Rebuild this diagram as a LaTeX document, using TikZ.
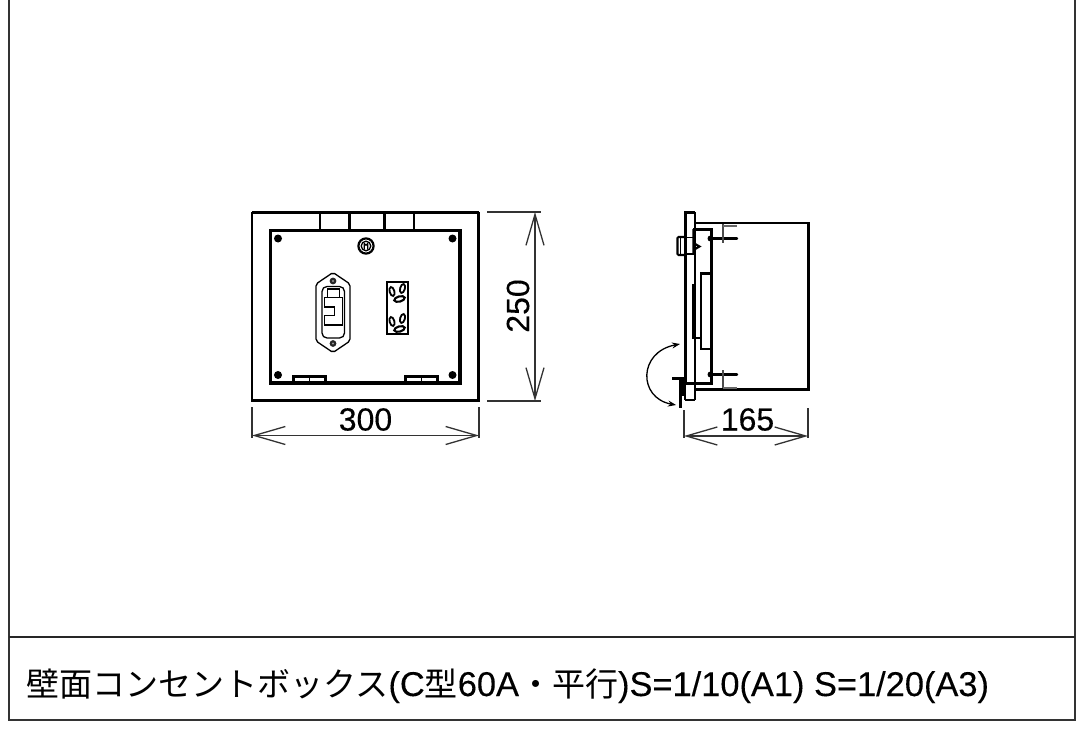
\documentclass[tikz,border=0pt]{standalone}
\usepackage{fontspec}
\usetikzlibrary{arrows.meta}
\setmainfont{Liberation Sans}[FakeBold=0.2]
\newfontfamily\cjk{Noto Sans CJK JP}[Scale=0.96]
\tikzset{
  dimline/.style={line width=1.3pt,black!80},
  barbs/.style={dimline,{Straight Barb[length=31pt,width=18pt,line width=1.3pt]}-{Straight Barb[length=31pt,width=18pt,line width=1.3pt]}},
  thin line/.style={line width=1.3pt},
  mid line/.style={line width=2.1pt},
  heavy/.style={line width=3pt},
  dimtext/.style={font=\fontsize{32}{36}\selectfont,inner sep=0pt},
  screwdot/.style={fill=black,draw=none},
  swing/.style={line width=1.3pt,{Stealth[length=8pt,width=6pt]}-{Stealth[length=8pt,width=6pt]}}
}
\begin{document}
\begin{tikzpicture}[x=1pt,y=-1pt]
\useasboundingbox (0,0) rectangle (1081,730);
% sheet frame
\draw[line width=1.3pt,black!80] (9,0) -- (9,720) -- (1075,720) -- (1075,0);
\draw[line width=1.6pt,black!85] (9,637) -- (1075,637);
\node[anchor=base west,inner sep=0pt,font=\fontsize{34.4}{38}\selectfont] (title) at (26,696) {{\cjk 壁面コンセントボックス}(C{\cjk 型}60A{\cjk ・平行})S=1/10(A1) S=1/20(A3)};
% front view
\draw[mid line] (252,212.5) -- (478.5,212.5);
\draw[line width=2.3pt] (252,212) -- (252,400.5) -- (478.5,400.5) -- (478.5,212);
\draw[line width=3.2pt] (270.5,230.5) rectangle (460,383);
\draw[mid line] (320,230) -- (320,213) -- (349.5,213) -- (349.5,230);
\draw[mid line] (384.5,230) -- (384.5,213) -- (414,213) -- (414,230);
\foreach \p in {(278,238.5),(452.5,238.5),(278,375),(452.5,375)}
  \fill[screwdot] \p circle (4);
% key
\draw[line width=2.2pt] (366,246) circle (7.6);
\draw[thin line] (366,246) circle (4.8);
\draw[thin line] (364.3,249.5) -- (364.3,243.5) arc (180:0:1.7) -- (367.7,249.5);
% hinges
\draw[line width=2.4pt] (293.5,382) -- (293.5,376.5) -- (325.5,376.5) -- (325.5,382);
\draw[thin line] (309.5,377) -- (309.5,382);
\draw[line width=2.4pt] (405.5,382) -- (405.5,376.5) -- (437.5,376.5) -- (437.5,382);
\draw[thin line] (421.5,377) -- (421.5,382);
% breaker plate
\draw[thin line,rounded corners=2pt] (333,272.5) -- (350,284) -- (350,341) -- (333,352.5) -- (316,341) -- (316,284) -- cycle;
\draw[thin line,rounded corners=5pt] (322,286.5) rectangle (344.5,338);
\foreach \p in {(333,281),(333,343.5)}{
  \fill[black!85] \p circle (3.4);
  \fill[black!40] \p circle (1.2);
}
\draw[thin line] (327.5,296.5) -- (327.5,289) -- (339.5,289) -- (339.5,296.5);
\draw[line width=1.9pt] (324.5,297.5) -- (342.5,297.5) -- (342.5,325) -- (324.5,325) -- (324.5,315.5) -- (334.5,315.5) -- (334.5,307) -- (324.5,307) -- cycle;
% outlet
\draw[line width=2pt] (386.5,281.5) rectangle (407.5,334);
\foreach \dy in {0,30}{
  \begin{scope}[yshift=-\dy pt]
  \draw[line width=1.8pt,rotate around={15:(392,291.5)}] (392,291.5) ellipse (2.4 and 4.6);
  \draw[line width=1.8pt,rotate around={-15:(402.5,288.5)}] (402.5,288.5) ellipse (2.4 and 4.6);
  \draw[mid line,rotate around={15:(399.5,299)}] (399.5,299) ellipse (5.4 and 2.6);
  \end{scope}
}
% dimensions front
\draw[dimline] (252,407) -- (252,438);
\draw[dimline] (479,407) -- (479,438);
\draw[barbs] (252,435.5) -- (479,435.5);
\node[dimtext] (d300) at (365.5,419.5) {300};
\draw[dimline] (487,212) -- (541,212);
\draw[dimline] (487,401) -- (541,401);
\draw[barbs] (535,212) -- (535,401);
\node[dimtext,rotate=90] (d250) at (518,306) {250};
% side view
\draw[line width=2.2pt] (695,223) -- (808.5,223) -- (808.5,389.5) -- (695,389.5);
\draw[heavy] (693,229.5) -- (711.5,229.5) -- (711.5,383) -- (685,383);
\draw[line width=3.2pt] (685.5,212) -- (685.5,383);
\draw[mid line] (684,212.5) -- (695,212.5);
\draw[thin line] (695,212) -- (695,400);
\draw[mid line] (685,400) -- (695,400);
\draw[mid line] (685,383) -- (685,400);
% inner rects
\draw[mid line] (695,285.5) -- (693,285.5) -- (693,338) -- (701,338);
\draw[mid line] (710,273.5) -- (701,273.5) -- (701,349) -- (710,349);
% top fastener
\draw[line width=2.4pt,line cap=round] (710,238.5) -- (737,238.5);
\fill (710.5,238.5) circle (3);
\draw[line width=1.6pt,black!70] (723,224) -- (723,243);
\draw[line width=2pt,black!60] (723,225.5) -- (737,225.5);
% lock
\draw[mid line,rounded corners=1pt] (686,237) -- (677.5,237) -- (677.5,255) -- (686,255);
\draw[thin line] (680.5,237) -- (680.5,255);
\draw[thin line] (686,237.5) -- (695,237.5) (686,254) -- (695,254);
\draw[mid line] (693.5,229) -- (693.5,254) (693.5,243) -- (699.5,246.5) -- (693.5,250);
% bottom fastener
\draw[line width=2.4pt,line cap=round] (710,374.5) -- (737,374.5);
\fill (710.5,374.5) circle (3);
\draw[line width=1.6pt,black!70] (723,370) -- (723,388);
\draw[line width=2pt,black!60] (723,387.5) -- (737,387.5);
% door latch
\draw[heavy] (672,378) -- (686,378);
\draw[heavy] (680,378) -- (680,408);
\draw[line width=2.2pt] (683.5,378) -- (683.5,396);
% swing arrow
\coordinate (swingA) at (680,344);
\coordinate (swingB) at (676,405);
\draw[swing] (swingA) .. controls (638,352) and (638,398) .. (swingB);
% 165 dimension
\draw[dimline] (684,410) -- (684,438);
\draw[dimline] (808,408) -- (808,438);
\draw[barbs] (684,436) -- (808,436);
\node[dimtext] (d165) at (747.5,419.5) {165};
\end{tikzpicture}
\end{document}
